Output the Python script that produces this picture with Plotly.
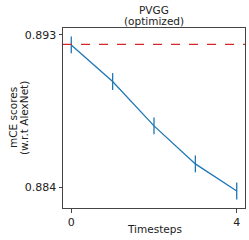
import plotly.graph_objects as go

timesteps = [0, 1, 2, 3, 4]
mce_scores = [0.89241, 0.89024, 0.88762, 0.88537, 0.88377]
mce_err = [0.0005, 0.0005, 0.0005, 0.0005, 0.0005]
baseline = 0.89244
y_ticks = [0.884, 0.893]
x_ticks = [0, 4]
title_lines = ["PVGG", "(optimized)"]
ytitle_lines = ["mCE scores", "(w.r.t AlexNet)"]
xtitle = "Timesteps"

font = dict(family="DejaVu Sans", size=10.5, color="#222")
tickfont = dict(family="DejaVu Sans", size=11, color="#222")

fig = go.Figure()
fig.add_trace(go.Scatter(
    x=timesteps, y=mce_scores, mode="lines",
    line=dict(color="#1f77b4", width=1.3),
    error_y=dict(type="data", array=mce_err, color="#1f77b4", thickness=1.3, width=0),
    showlegend=False,
))
fig.add_shape(type="line", xref="paper", x0=0, x1=1, yref="y", y0=baseline, y1=baseline,
              line=dict(color="#d62728", width=1.3, dash="dash"))

# title lines (plot area spans pixel rows 28..208, columns 63..245)
for txt, ypos in zip(title_lines, [1.10, 1.039]):
    fig.add_annotation(text=txt, xref="paper", yref="paper", x=0.5, y=ypos,
                       xanchor="center", yanchor="middle", showarrow=False, font=font)
for txt, xpos in zip(ytitle_lines, [-0.2747, -0.2143]):
    fig.add_annotation(text=txt, xref="paper", yref="paper", x=xpos, y=0.5, textangle=-90,
                       xanchor="center", yanchor="middle", showarrow=False, font=font)
fig.add_annotation(text=xtitle, xref="paper", yref="paper", x=0.5, y=-0.117,
                   xanchor="center", yanchor="middle", showarrow=False, font=font)

fig.update_layout(
    width=249, height=240,
    margin=dict(l=63, r=4, t=28, b=32, autoexpand=False),
    paper_bgcolor="white", plot_bgcolor="white",
    font=font,
)
fig.update_xaxes(range=[-0.2, 4.2], tickvals=x_ticks, ticktext=[str(v) for v in x_ticks],
                 tickfont=tickfont, automargin=False,
                 showgrid=False, zeroline=False, showline=True, linecolor="#444", linewidth=1,
                 mirror=True, ticks="outside", ticklen=3.5, tickcolor="#444")
fig.update_yaxes(range=[0.88276, 0.89341], tickvals=y_ticks, ticktext=[f"{v:.3f}" for v in y_ticks],
                 tickfont=tickfont, automargin=False,
                 showgrid=False, zeroline=False, showline=True, linecolor="#444", linewidth=1,
                 mirror=True, ticks="outside", ticklen=3.5, tickcolor="#444")

fig.write_html("out.html", config={"displayModeBar": False},
               post_script="document.body.style.margin='0';document.body.style.overflow='hidden';")
